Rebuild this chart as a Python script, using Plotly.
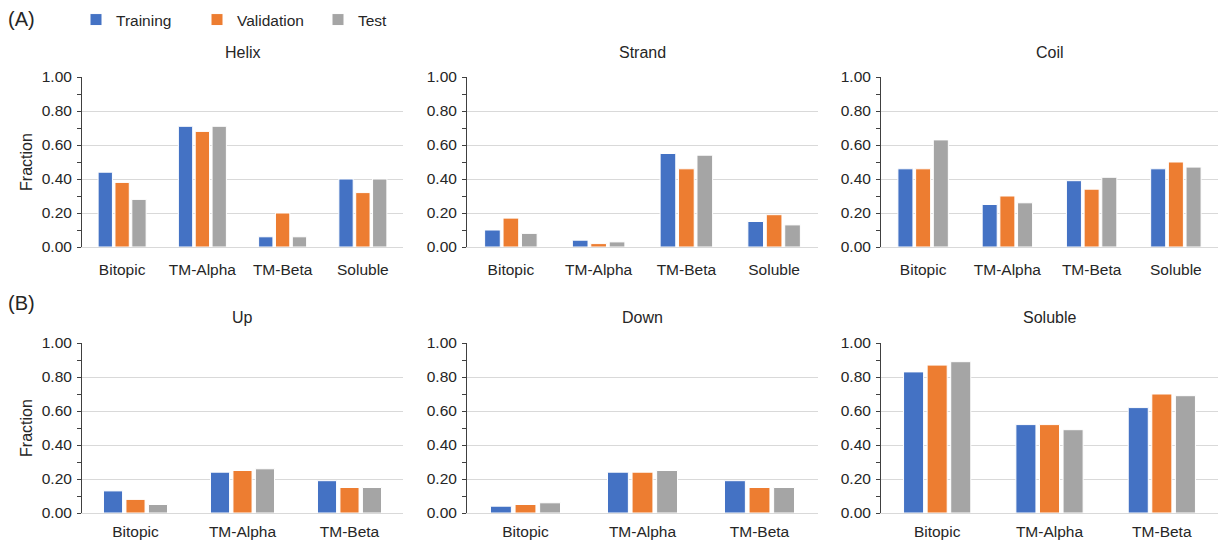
import plotly.graph_objects as go
from plotly.subplots import make_subplots

series_names = ["Training", "Validation", "Test"]
series_colors = ["#4472C4", "#ED7D31", "#A5A5A5"]

cats_a = ["Bitopic", "TM-Alpha", "TM-Beta", "Soluble"]
cats_b = ["Bitopic", "TM-Alpha", "TM-Beta"]

helix_training = [0.44, 0.71, 0.06, 0.40]
helix_validation = [0.38, 0.68, 0.20, 0.32]
helix_test = [0.28, 0.71, 0.06, 0.40]

strand_training = [0.10, 0.04, 0.55, 0.15]
strand_validation = [0.17, 0.02, 0.46, 0.19]
strand_test = [0.08, 0.03, 0.54, 0.13]

coil_training = [0.46, 0.25, 0.39, 0.46]
coil_validation = [0.46, 0.30, 0.34, 0.50]
coil_test = [0.63, 0.26, 0.41, 0.47]

up_training = [0.13, 0.24, 0.19]
up_validation = [0.08, 0.25, 0.15]
up_test = [0.05, 0.26, 0.15]

down_training = [0.04, 0.24, 0.19]
down_validation = [0.05, 0.24, 0.15]
down_test = [0.06, 0.25, 0.15]

sol_training = [0.83, 0.52, 0.62]
sol_validation = [0.87, 0.52, 0.70]
sol_test = [0.89, 0.49, 0.69]

panels = [
    ("Helix", cats_a, [helix_training, helix_validation, helix_test]),
    ("Strand", cats_a, [strand_training, strand_validation, strand_test]),
    ("Coil", cats_a, [coil_training, coil_validation, coil_test]),
    ("Up", cats_b, [up_training, up_validation, up_test]),
    ("Down", cats_b, [down_training, down_validation, down_test]),
    ("Soluble", cats_b, [sol_training, sol_validation, sol_test]),
]

W, H = 1222, 540
FONT = "Liberation Sans, Arial, sans-serif"
TXT = "#262626"

fig = make_subplots(rows=2, cols=3)

x_px = [(82, 403), (467, 818), (881, 1218)]
y_px = [(77, 247), (343, 513)]

for i, (title, cats, vals) in enumerate(panels):
    r, c = i // 3 + 1, i % 3 + 1
    for k in range(3):
        fig.add_trace(
            go.Bar(
                x=cats, y=vals[k], name=series_names[k],
                marker=dict(color=series_colors[k], line=dict(color="white", width=1)),
                legendgroup=series_names[k], showlegend=(i == 0),
                hoverinfo="x+y+name",
            ),
            row=r, col=c,
        )
    x0, x1 = x_px[c - 1]
    yt, yb = y_px[r - 1]
    xd = [x0 / W, x1 / W]
    yd = [1 - yb / H, 1 - yt / H]
    fig.update_xaxes(domain=xd, showline=True, linecolor="#d9d9d9", linewidth=1,
                     ticks="outside", ticklen=8 if r == 1 else 4, tickcolor="rgba(0,0,0,0)",
                     tickfont=dict(size=15.5, color=TXT, family=FONT),
                     showgrid=False, zeroline=False, fixedrange=True, automargin=False,
                     row=r, col=c)
    fig.update_yaxes(domain=yd, range=[0, 1], tickvals=[0, 0.2, 0.4, 0.6, 0.8, 1.0],
                     ticktext=["0.00", "0.20", "0.40", "0.60", "0.80", "1.00"],
                     showline=True, linecolor="#404040", linewidth=1,
                     ticks="outside", ticklen=4, tickcolor="#404040",
                     minor=dict(dtick=0.1, ticks="outside", ticklen=4, tickcolor="#404040", showgrid=False),
                     showgrid=True, gridcolor="#d9d9d9", gridwidth=1, zeroline=False,
                     tickfont=dict(size=15.5, color=TXT, family=FONT),
                     ticklabelstandoff=2,
                     title=dict(text="Fraction" if c == 1 else "", font=dict(size=16, color=TXT, family=FONT), standoff=5),
                     fixedrange=True, automargin=False, row=r, col=c)
    ty = 52 if r == 1 else 317
    fig.add_annotation(text=title, x=(xd[0] + xd[1]) / 2, y=1 - ty / H, xref="paper", yref="paper",
                       showarrow=False, xanchor="center", yanchor="middle",
                       font=dict(size=16, color=TXT, family=FONT))

fig.add_annotation(text="(A)", x=6 / W, y=1 - 19 / H, xref="paper", yref="paper", showarrow=False,
                   xanchor="left", yanchor="middle", font=dict(size=20, color=TXT, family=FONT))
fig.add_annotation(text="(B)", x=6 / W, y=1 - 303 / H, xref="paper", yref="paper", showarrow=False,
                   xanchor="left", yanchor="middle", font=dict(size=20, color=TXT, family=FONT))

fig.update_layout(
    width=W, height=H,
    margin=dict(l=0, r=0, t=0, b=0, autoexpand=False),
    paper_bgcolor="white", plot_bgcolor="white",
    barmode="group", bargap=0.37, bargroupgap=0.15,
    font=dict(family=FONT, color=TXT),
    legend=dict(orientation="h", x=76 / W, y=1 - 3 / H, xanchor="left", yanchor="top",
                font=dict(size=15.5, color=TXT, family=FONT), bgcolor="rgba(0,0,0,0)",
                entrywidth=76, entrywidthmode="pixels"),
)

fig.write_html("out.html", config={"displayModeBar": False},
               post_script="document.body.style.margin='0';document.body.style.overflow='hidden';")
